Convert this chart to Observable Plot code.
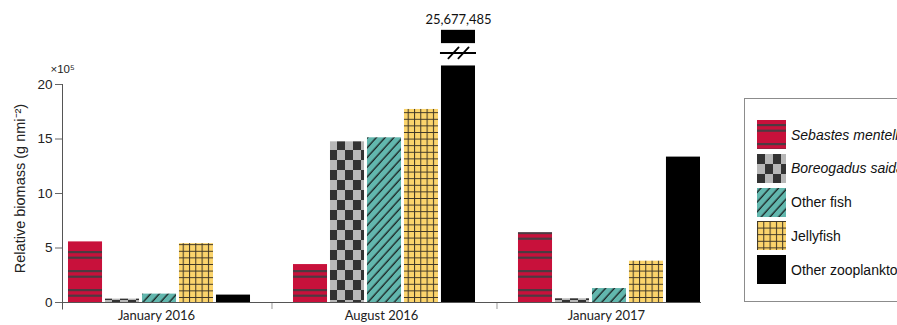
<!DOCTYPE html>
<html>
<head>
<meta charset="utf-8">
<script src="https://cdn.jsdelivr.net/npm/d3@7"></script>
<script src="https://cdn.jsdelivr.net/npm/@observablehq/plot@0.6"></script>
<style>
  body { margin: 0; background: #fff; overflow: hidden; }
  #wrap { position: relative; width: 897px; height: 325px; overflow: hidden; font-family: "Liberation Sans", Arial, sans-serif; }
  #chart svg { display: block; }
  .legend { position: absolute; left: 744px; top: 98px; width: 230px; height: 204px; border: 1px solid #8c8c8c; box-sizing: border-box; }
  .item { position: absolute; left: 12px; height: 29px; display: flex; align-items: center; font-size: 14px; color: #111; white-space: nowrap; }
  .item svg { width: 29px; height: 29px; margin-right: 5px; flex: none; display: block; }
  .item i { font-style: italic; }
</style>
</head>
<body>
<svg width="0" height="0" style="position:absolute">
  <defs>
    <pattern id="pat-sebastes" patternUnits="userSpaceOnUse" width="10" height="19">
      <rect width="10" height="19" fill="#c8113b"/>
      <rect y="4" width="10" height="2.2" fill="#4d3a41"/>
      <rect y="9.6" width="10" height="2.2" fill="#4d3a41"/>
    </pattern>
    <pattern id="pat-boreogadus" patternUnits="userSpaceOnUse" width="16" height="20">
      <rect width="16" height="20" fill="#b7b7b7"/>
      <rect x="0" y="0" width="8" height="10" fill="#333333"/>
      <rect x="8" y="10" width="8" height="10" fill="#333333"/>
    </pattern>
    <pattern id="pat-otherfish" patternUnits="userSpaceOnUse" width="6.5" height="6.5" patternTransform="rotate(42)">
      <rect width="6.5" height="6.5" fill="#62b7ae"/>
      <line x1="3" y1="0" x2="3" y2="6.5" stroke="#111" stroke-width="1.2"/>
    </pattern>
    <pattern id="pat-jellyfish" patternUnits="userSpaceOnUse" width="6.3" height="6.6">
      <rect width="6.3" height="6.6" fill="#fbd46c"/>
      <path d="M0 0.5H6.3M0.5 0V6.6" stroke="#3d3526" stroke-width="1"/>
    </pattern>
  </defs>
</svg>
<div id="wrap">
  <div id="chart"></div>
  <div class="legend" id="legend"></div>
</div>
<script>
// Sampling periods and taxonomic groups
const periods = ["January 2016", "August 2016", "January 2017"];
const species = ["Sebastes mentella", "Boreogadus saida", "Other fish", "Jellyfish", "Other zooplankton"];
const italicSpecies = ["Sebastes mentella", "Boreogadus saida"];

// Relative biomass (g nmi^-2) per period, one array per group
const sebastesMentella = [556000, 348000, 641000];
const boreogadusSaida = [31000, 1474000, 34000];
const otherFish = [77000, 1511000, 128000];
const jellyfish = [540000, 1771000, 379000];
const otherZooplankton = [68000, 25677485, 1334000];

// Axis ticks and labels
const yTicks = [0, 500000, 1000000, 1500000, 2000000];
const yScaleNote = "×10⁵";
const yTitle = "Relative biomass (g nmi⁻²)";

// Fills per group
const fills = ["url(#pat-sebastes)", "url(#pat-boreogadus)", "url(#pat-otherfish)", "url(#pat-jellyfish)", "#000"];

// Broken-axis layout for the off-scale bar (positions on the y scale)
const axisBreak = {below: 2170000, line: 2290000, capBottom: 2375000, capTop: 2497000};

const series = [sebastesMentella, boreogadusSaida, otherFish, jellyfish, otherZooplankton];
const rows = periods.flatMap((period, i) =>
  species.map((s, j) => ({period, species: s, value: series[j][i], fill: fills[j]}))
);
const broken = rows.filter((d) => d.value > axisBreak.below);

const width = 897, height = 325;
const left = 62, right = 700;
const padIn = 0.1644;
const fxStep = (right - left) / (periods.length - padIn);
const fxBand = fxStep * (1 - padIn);
// bars sit flush right in each period band, leaving a small gap on the left
const xPadIn = 0.08, xPadOut = 0.081;
const barShift = 2 * xPadOut * fxBand / (species.length - xPadIn + 2 * xPadOut);

const slash = {draw(context, l) { context.moveTo(0, 0); context.lineTo(0, -l); }};
const numFmt = d3.format(",");
const labelFont = "Lato, 'Open Sans', sans-serif";

const chart = Plot.plot({
  width, height,
  marginLeft: left, marginRight: width - right, marginTop: 84, marginBottom: 23,
  style: {fontFamily: "'Liberation Sans', Arial, sans-serif", fontSize: "13.5px", color: "#222", background: "transparent"},
  fx: {domain: periods, paddingInner: padIn, paddingOuter: 0, round: false},
  x: {domain: species, paddingInner: xPadIn, paddingOuter: xPadOut, align: 1, round: false, axis: null},
  y: {domain: [0, 2000000]},
  marks: [
    Plot.axisY({ticks: yTicks, tickFormat: (d) => d / 1e5, tickSize: 7, tickPadding: 3, label: null, stroke: "#666"}),
    Plot.text([yScaleNote], {facet: "super", frameAnchor: "top-left", text: (d) => d, dx: -12, dy: -12, textAnchor: "start", lineAnchor: "bottom", fontSize: 11.5}),
    Plot.text([yTitle], {facet: "super", frameAnchor: "left", text: (d) => d, rotate: -90, textAnchor: "middle", lineAnchor: "middle", dx: -42, dy: -5, fontSize: 14.5}),
    Plot.axisFx({anchor: "bottom", tickSize: 0, tickPadding: 8, label: null, fontFamily: labelFont, fontSize: 13}),
    Plot.axisFx({anchor: "bottom", ticks: periods.slice(0, -1), tickSize: 7, tickFormat: () => "", dx: fxStep / 2 + barShift / 2, label: null, stroke: "#999"}),
    Plot.barY(rows, {fx: "period", x: "species", y1: 0, y2: (d) => Math.min(d.value, axisBreak.below), fill: "fill"}),
    Plot.barY(broken, {fx: "period", x: "species", y1: axisBreak.capBottom, y2: axisBreak.capTop, fill: "fill"}),
    Plot.tickY(broken, {fx: "period", x: "species", y: axisBreak.line, stroke: "#000", strokeWidth: 2, insetLeft: -1, insetRight: -1}),
    Plot.vector(broken, {fx: "period", x: "species", y: axisBreak.line, length: 15, rotate: 43, anchor: "middle", shape: slash, stroke: "#000", strokeWidth: 1.8, dx: -5}),
    Plot.vector(broken, {fx: "period", x: "species", y: axisBreak.line, length: 15, rotate: 43, anchor: "middle", shape: slash, stroke: "#000", strokeWidth: 1.8, dx: 5}),
    Plot.text(broken, {fx: "period", x: "species", y: axisBreak.capTop, text: (d) => numFmt(d.value), dy: -6, lineAnchor: "bottom", fontFamily: labelFont, fontSize: 13, fill: "#111"}),
    Plot.frame({anchor: "bottom", facet: "super", stroke: "#555"}),
    Plot.frame({anchor: "left", facet: "super", insetBottom: -6.5, stroke: "#555"})
  ]
});
document.getElementById("chart").append(chart);

// Legend
const legend = document.getElementById("legend");
species.forEach((s, j) => {
  const item = document.createElement("div");
  item.className = "item";
  item.style.top = (21 + j * 33.75) + "px";
  item.innerHTML = `<svg viewBox="0 0 29 29"><rect width="29" height="29" fill="${fills[j]}"/></svg>`;
  const label = document.createElement(italicSpecies.includes(s) ? "i" : "span");
  label.textContent = s;
  item.append(label);
  legend.append(item);
});
</script>
</body>
</html>
